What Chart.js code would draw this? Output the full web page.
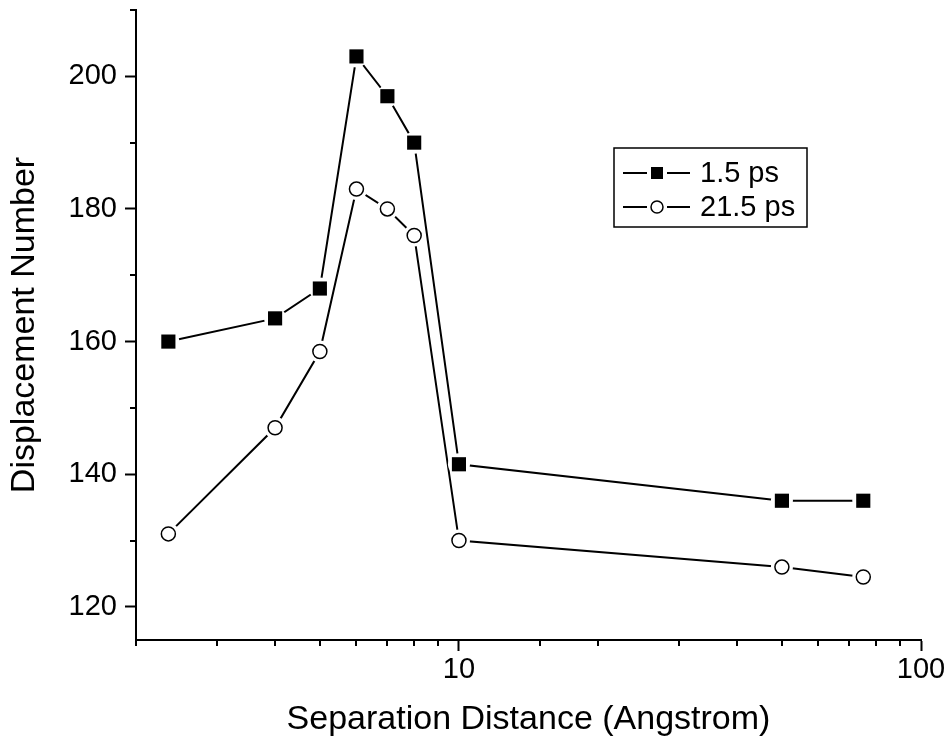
<!DOCTYPE html>
<html>
<head>
<meta charset="utf-8">
<script src="https://cdn.jsdelivr.net/npm/chart.js@4.4.1/dist/chart.umd.min.js"></script>
<style>
    html, body { margin: 0; padding: 0; background: #fff; }
</style>
</head>
<body>
<canvas id="myChart" width="947" height="744"></canvas>
<script>
    // separation distance (Angstrom) and displacement counts
    const distances = [2.35, 4, 5, 6, 7, 8, 10, 50, 75]
    const shortTime = [160, 163.5, 168, 203, 197, 190, 141.5, 136, 136]
    const longTime = [131, 147, 158.5, 183, 180, 176, 130, 126, 124.5]
    const seriesNames = ['1.5 ps', '21.5 ps']
    const xTickLabels = [10, 100]
    const yTickLabels = [120, 140, 160, 180, 200]

    const FONT = 'Liberation Sans, Arial, sans-serif'

    function toPoints(ys) {
        return distances.map((d, i) => ({ x: d, y: ys[i] }))
    }

    function isMajorX(v) { return xTickLabels.includes(v) }
    function isMajorY(v) { return yTickLabels.includes(v) }

    // white ring around each marker so the line stops short of it, then redraw the markers
    const markerGap = {
        id: 'markerGap',
        afterDatasetsDraw(chart) {
            const ctx = chart.ctx
            ctx.save()
            ctx.fillStyle = '#fff'
            chart.data.datasets.forEach((ds, i) => {
                chart.getDatasetMeta(i).data.forEach(pt => {
                    ctx.beginPath()
                    ctx.arc(pt.x, pt.y, 11, 0, Math.PI * 2)
                    ctx.fill()
                })
            })
            ctx.restore()
            chart.data.datasets.forEach((ds, i) => {
                chart.getDatasetMeta(i).data.forEach(pt => pt.draw(chart.ctx, chart.chartArea))
            })
        }
    }

    // short minor ticks on both axes
    const minorTicks = {
        id: 'minorTicks',
        afterDraw(chart) {
            const ctx = chart.ctx
            const x = chart.scales.x
            const y = chart.scales.y
            ctx.save()
            ctx.strokeStyle = '#000'
            ctx.lineWidth = 2
            ctx.beginPath()
            x.ticks.forEach(t => {
                if (isMajorX(t.value)) return
                const px = Math.round(x.getPixelForValue(t.value))
                ctx.moveTo(px, x.top)
                ctx.lineTo(px, x.top + 6)
            })
            y.ticks.forEach(t => {
                if (isMajorY(t.value)) return
                const py = Math.round(y.getPixelForValue(t.value))
                ctx.moveTo(y.right, py)
                ctx.lineTo(y.right - 6, py)
            })
            ctx.stroke()
            ctx.restore()
        }
    }

    // boxed legend inside the plot: line - marker - line, then the label
    const boxLegend = {
        id: 'boxLegend',
        afterDraw(chart) {
            const ctx = chart.ctx
            const left = 614, top = 148, w = 193, h = 79
            ctx.save()
            ctx.strokeStyle = '#000'
            ctx.lineWidth = 1.5
            ctx.strokeRect(left, top, w, h)
            ctx.font = '29px ' + FONT
            ctx.textBaseline = 'middle'
            ctx.fillStyle = '#000'
            chart.data.datasets.forEach((ds, i) => {
                const cy = top + 25 + i * 34
                const mx = left + 43
                ctx.lineWidth = 2
                ctx.beginPath()
                ctx.moveTo(left + 9, cy)
                ctx.lineTo(mx - 10, cy)
                ctx.moveTo(mx + 10, cy)
                ctx.lineTo(left + 76, cy)
                ctx.stroke()
                if (ds.pointStyle === 'rect') {
                    ctx.fillRect(mx - 6, cy - 6, 12, 12)
                } else {
                    ctx.beginPath()
                    ctx.arc(mx, cy, 6, 0, Math.PI * 2)
                    ctx.fillStyle = '#fff'
                    ctx.fill()
                    ctx.lineWidth = 1.5
                    ctx.stroke()
                    ctx.fillStyle = '#000'
                }
                ctx.fillText(ds.label, left + 86, cy + 1)
            })
            ctx.restore()
        }
    }

    const ctx = document.getElementById('myChart')
    // eslint-disable-next-line no-unused-vars
    const myChart = new Chart(ctx, {
        type: 'line',
        data: {
            datasets: [{
                label: seriesNames[0],
                data: toPoints(shortTime),
                borderColor: '#000',
                borderWidth: 2,
                lineTension: 0,
                pointStyle: 'rect',
                pointRadius: 10,
                pointBackgroundColor: '#000',
                pointBorderColor: '#000',
                pointBorderWidth: 0
            }, {
                label: seriesNames[1],
                data: toPoints(longTime),
                borderColor: '#000',
                borderWidth: 2,
                lineTension: 0,
                pointStyle: 'circle',
                pointRadius: 7,
                pointBackgroundColor: '#fff',
                pointBorderColor: '#000',
                pointBorderWidth: 1.5
            }]
        },
        options: {
            responsive: false,
            animation: false,
            layout: {
                padding: { top: 9, right: 26, left: 0, bottom: 0 }
            },
            plugins: {
                legend: { display: false },
                tooltip: { enabled: false }
            },
            scales: {
                x: {
                    type: 'logarithmic',
                    min: 2,
                    max: 100,
                    afterFit(scale) {
                        scale.height = 104
                        scale.paddingLeft = 0
                        scale.paddingRight = 0
                    },
                    border: { display: true, color: '#000', width: 2 },
                    grid: {
                        drawOnChartArea: false,
                        drawTicks: true,
                        tickLength: 11,
                        tickWidth: 2,
                        tickColor: c => (c.tick && isMajorX(c.tick.value)) ? '#000' : 'rgba(0,0,0,0)'
                    },
                    ticks: {
                        autoSkip: false,
                        maxRotation: 0,
                        padding: 2,
                        color: '#000',
                        font: { family: FONT, size: 29 },
                        callback: v => isMajorX(v) ? String(v) : ''
                    },
                    title: {
                        display: true,
                        text: 'Separation Distance (Angstrom)',
                        color: '#000',
                        font: { family: FONT, size: 34 },
                        padding: { top: 0, bottom: 4 }
                    }
                },
                y: {
                    min: 115,
                    max: 210,
                    afterFit(scale) {
                        scale.width = 136
                        scale.paddingTop = 0
                        scale.paddingBottom = 0
                    },
                    border: { display: true, color: '#000', width: 2 },
                    grid: {
                        drawOnChartArea: false,
                        drawTicks: true,
                        tickLength: 11,
                        tickWidth: 2,
                        tickColor: c => (c.tick && isMajorY(c.tick.value)) ? '#000' : 'rgba(0,0,0,0)'
                    },
                    ticks: {
                        stepSize: 10,
                        includeBounds: false,
                        autoSkip: false,
                        padding: 8,
                        color: '#000',
                        font: { family: FONT, size: 29 },
                        callback: v => isMajorY(v) ? String(v) : ''
                    },
                    title: {
                        display: true,
                        text: 'Displacement Number',
                        color: '#000',
                        font: { family: FONT, size: 34 },
                        padding: { top: 4, bottom: 0 }
                    }
                }
            }
        },
        plugins: [markerGap, minorTicks, boxLegend]
    })
</script>
</body>
</html>
